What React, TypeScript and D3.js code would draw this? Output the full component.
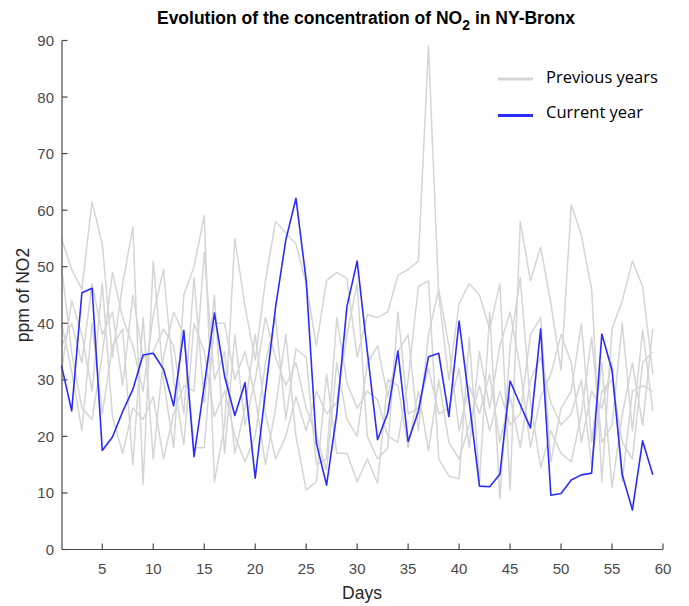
import React from "react";
import * as d3 from "d3";

const days: number[] = Array.from({ length: 59 }, (_, i) => i + 1);

const currentYear: number[] = [
  32.5, 24.5, 45.4, 46.2, 17.5, 19.9, 24.4, 28.3, 34.4, 34.7,
  31.9, 25.4, 38.7, 16.4, 29, 41.8, 30.6, 23.7, 29.5, 12.6,
  27.8, 42.9, 54.7, 62.1, 47.6, 18.8, 11.4, 24, 43, 51,
  35, 19.4, 24.1, 35.1, 19.1, 24.4, 34.1, 34.7, 23.5, 40.4,
  26, 11.2, 11.1, 13.3, 29.8, 25.6, 21.5, 39, 9.6, 9.9,
  12.3, 13.2, 13.5, 38.1, 31.7, 13.2, 7, 19.2, 13.2,
];

const prevYear1: number[] = [
  55, 49.5, 46, 61.5, 54, 34, 47, 57, 11.5, 51,
  30, 18, 45, 50, 59, 12, 22, 55, 43, 33.5,
  47.5, 58, 56, 54, 47, 36, 47.5, 49, 48, 34,
  41.5, 41, 42, 48.5, 49.5, 51, 89, 45, 30, 43.5,
  47, 45, 39, 47, 10.5, 58, 47.5, 53.5, 43.5, 31.7,
  61, 55.5, 46, 12, 39, 44, 51, 46.5, 31,
];
const prevYear2: number[] = [
  50, 35, 25, 23, 34.5, 49, 41, 36, 28, 41.5,
  49.5, 30, 18.5, 40, 35, 23.5, 28, 20, 15.5, 20,
  33, 41, 23, 35.5, 34, 15, 16, 41, 29.5, 25,
  28, 26.5, 20, 19, 30, 46.5, 47.5, 16, 13, 12.5,
  37.5, 12, 42, 9, 36, 48, 26, 14.5, 21, 17,
  15.5, 24, 37.5, 19, 22, 40, 21, 38.8, 24.5,
];
const prevYear3: number[] = [
  40, 31.5, 21, 40, 24, 36, 39, 15, 41, 16,
  34, 42, 38, 18, 18, 40, 40, 30, 35, 27,
  15, 25, 38, 20, 10.5, 12, 31, 17, 17, 12,
  16, 11.7, 30, 29, 18, 28, 17.5, 30, 19, 16,
  22, 29, 21, 28, 22, 24, 38, 41, 15.5, 25,
  28, 40, 19, 33, 11, 23.8, 33, 22, 39,
];
const prevYear4: number[] = [
  31.5, 44, 38, 28, 47, 23.5, 17, 25, 23, 27,
  16, 24, 29, 28, 52.5, 30, 35, 17, 25, 38,
  24, 16, 20, 27, 21, 28, 24, 26, 38, 47,
  20, 16, 18, 42, 24, 25, 32, 24, 25, 32,
  18, 35, 25, 36, 42, 32, 18, 27, 31, 38,
  33, 19, 28, 25, 33, 12, 28, 29, 28,
];
const prevYear5: number[] = [
  36, 40, 33, 47, 38, 42, 29, 45, 34, 35,
  39, 36, 24, 48, 26, 45, 17, 38, 22, 30,
  41, 34, 29, 33, 25, 20, 14, 33, 23, 20,
  33, 36, 27, 35, 38, 21, 38, 46, 36, 21,
  29, 24, 31, 19, 27, 18, 30, 34, 26, 22,
  24, 30, 15, 28, 30, 19, 16, 33, 35,
];
const previousYears: number[][] = [prevYear1, prevYear2, prevYear3, prevYear4, prevYear5];

const xTicks: number[] = [5, 10, 15, 20, 25, 30, 35, 40, 45, 50, 55, 60];
const yTicks: number[] = [0, 10, 20, 30, 40, 50, 60, 70, 80, 90];
const legendLabels: string[] = ["Previous years", "Current year"];

const W = 689;
const H = 606;
const axisColor = "#4a4a4a";
const grayColor = "#d5d5d5";
const blueColor = "#2b2bff";

export default function App() {
  const x = d3.scaleLinear().domain([1, 60]).range([61.5, 663]);
  const y = d3.scaleLinear().domain([0, 90]).range([549.5, 40.5]);
  const line = d3
    .line<number>()
    .x((_, i) => x(days[i]))
    .y((v) => y(v));

  return (
    <svg
      width={W}
      height={H}
      viewBox={`0 0 ${W} ${H}`}
      style={{ position: "absolute", left: 0, top: 0, background: "#fff" }}
      fontFamily="'Liberation Sans', Arial, sans-serif"
    >
      <rect x={0} y={0} width={W} height={H} fill="#fff" />
      {/* title */}
      <text x={366} y={24} textAnchor="middle" fontSize={17.5} fontWeight="bold" fill="#000">
        Evolution of the concentration of NO
        <tspan dy={6} fontSize={14}>2</tspan>
        <tspan dy={-6}> in NY-Bronx</tspan>
      </text>

      {/* data lines */}
      <g fill="none" strokeLinejoin="round">
        {previousYears.map((s, k) => (
          <path key={k} d={line(s) || ""} stroke={grayColor} strokeWidth={1.5} />
        ))}
        <path d={line(currentYear) || ""} stroke={blueColor} strokeWidth={1.6} />
      </g>

      {/* axes */}
      <g stroke={axisColor} strokeWidth={1.2} fill="none">
        <line x1={x(1) + 0.5} x2={x(1) + 0.5} y1={y(90)} y2={y(0)} />
        <line x1={x(1) + 0.5} x2={x(60)} y1={y(0)} y2={y(0)} />
        {yTicks.map((t) => (
          <line key={"yt" + t} x1={x(1) + 0.5} x2={x(1) + 6} y1={y(t)} y2={y(t)} />
        ))}
        {xTicks.map((t) => (
          <line key={"xt" + t} x1={x(t)} x2={x(t)} y1={y(0)} y2={y(0) - 6} />
        ))}
      </g>
      <g fill={axisColor} fontSize={15}>
        {yTicks.map((t) => (
          <text key={"yl" + t} x={54} y={y(t) + 5.5} textAnchor="end">
            {t}
          </text>
        ))}
        {xTicks.map((t) => (
          <text key={"xl" + t} x={x(t)} y={574} textAnchor="middle">
            {t}
          </text>
        ))}
      </g>
      <text x={362} y={599} textAnchor="middle" fontSize={17.5} fill="#262626">
        Days
      </text>
      <text
        transform={`translate(29, ${y(45)}) rotate(-90)`}
        textAnchor="middle"
        fontSize={17.5}
        fill="#262626"
      >
        ppm of NO2
      </text>

      {/* legend */}
      <g fontFamily="'Open Sans', 'Noto Sans', sans-serif" fontSize={16.5} fill="#000">
        <line x1={498} x2={533} y1={79} y2={79} stroke={grayColor} strokeWidth={3} />
        <text x={546} y={82.5}>{legendLabels[0]}</text>
        <line x1={498} x2={533} y1={115.5} y2={115.5} stroke={blueColor} strokeWidth={3} />
        <text x={546} y={117.5}>{legendLabels[1]}</text>
      </g>
    </svg>
  );
}
